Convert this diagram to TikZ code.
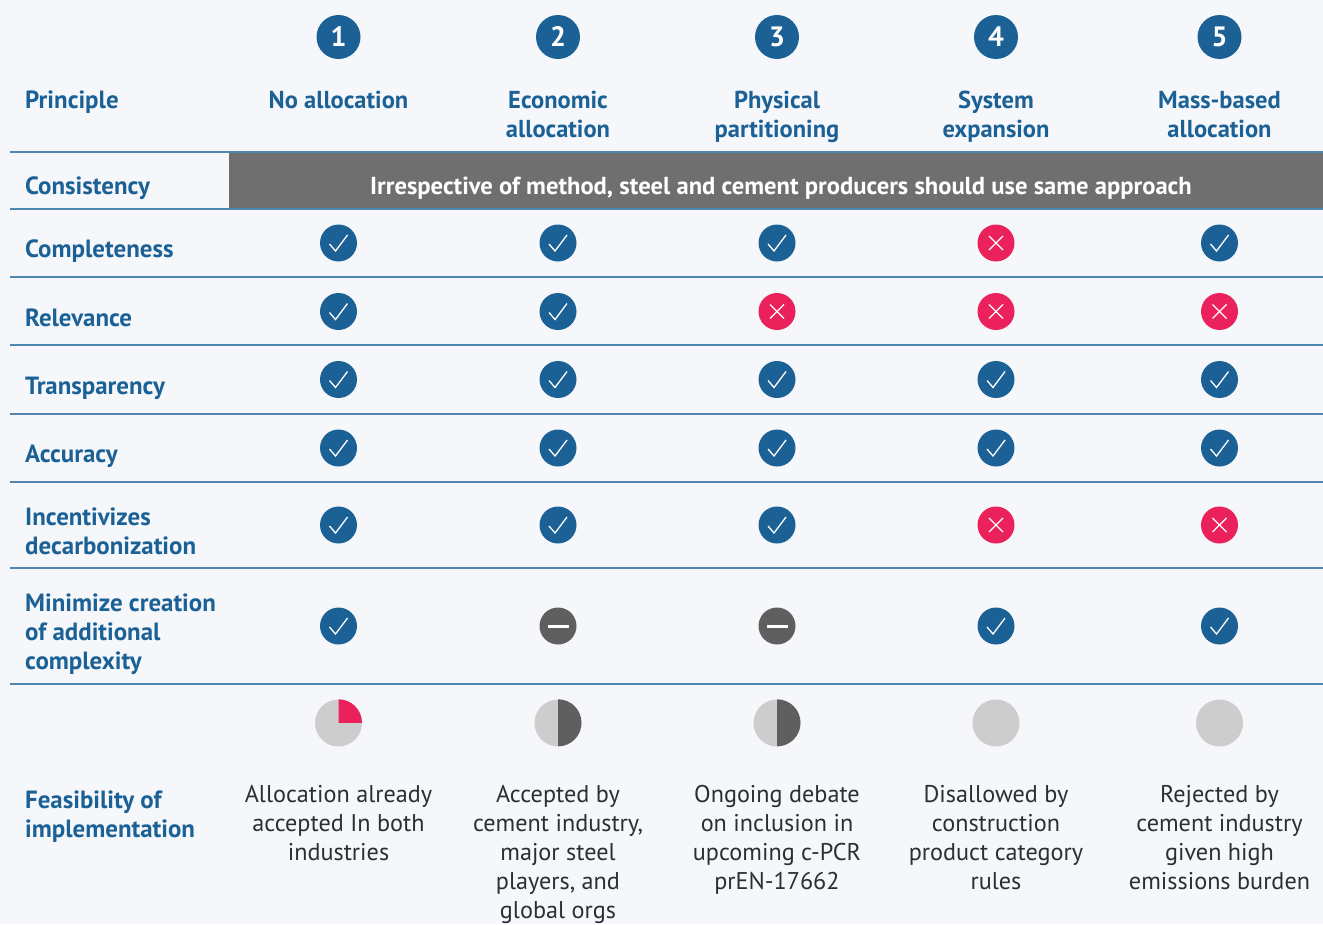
\documentclass[tikz,border=0pt]{standalone}
\usepackage{fontspec}
\setmainfont{PT Sans}
\definecolor{bgc}{HTML}{F5F7FB}
\definecolor{blu}{HTML}{1B6196}
\definecolor{rul}{HTML}{4F86B0}
\definecolor{gry}{HTML}{6F6F6F}
\definecolor{dgr}{HTML}{5F5F5F}
\definecolor{lgr}{HTML}{CDCDCD}
\definecolor{rd}{HTML}{EB215B}
\definecolor{ink}{HTML}{2A2F33}
\tikzset{
  x=1pt,y=-1pt,
  head/.style={font=\bfseries\fontsize{24.5}{29}\selectfont,text=blu,align=center,inner sep=0pt,text depth=0pt},
  lab/.style={head,font=\bfseries\fontsize{24.9}{29}\selectfont,align=left,anchor=west},
  band/.style={head,text=white,font=\bfseries\fontsize{24.6}{29}\selectfont},
  note/.style={font=\fontsize{24.2}{29}\selectfont,text=ink,align=center,inner sep=0pt,anchor=north,text depth=0pt},
  badge/.style={circle,fill=blu,text=white,minimum size=44pt,inner sep=0pt,font=\bfseries\fontsize{28}{28}\selectfont},
  rowline/.style={draw=rul,line width=1.2pt},
  icon/.style={circle,minimum size=37pt,inner sep=0pt},
  glyph/.style={draw=white,line width=1.3pt},
  pie/.style={circle,fill=lgr,minimum size=47pt,inner sep=0pt},
}
\newcommand{\icyes}[3]{\node[icon,fill=blu] (#1) at (#2,#3) {};
  \draw[glyph] ([shift={(-9,1)}]#1.center) -- ([shift={(-3,8)}]#1.center) -- ([shift={(9,-8)}]#1.center);}
\newcommand{\icno}[3]{\node[icon,fill=rd] (#1) at (#2,#3) {};
  \draw[glyph] ([shift={(-7,-7)}]#1.center) -- ([shift={(7,7)}]#1.center);
  \draw[glyph] ([shift={(-7,7)}]#1.center) -- ([shift={(7,-7)}]#1.center);}
\newcommand{\icmid}[3]{\node[icon,fill=dgr] (#1) at (#2,#3) {};
  \draw[draw=white,line width=3pt] ([shift={(-10.5,0)}]#1.center) -- ([shift={(10.5,0)}]#1.center);}
\begin{document}
\begin{tikzpicture}
\useasboundingbox (0,0) rectangle (1323,924);
\fill[bgc] (0,0) rectangle (1323,924);
\fill[gry] (229,153) rectangle (1323,209);
\draw[rowline,line width=2pt,draw=rul] (10,152) -- (1323,152);
\foreach \yy in {209,277,345,414,482,568,684} \draw[rowline] (10,\yy) -- (1323,\yy);

\node[badge] (b1) at (338.5,37) {1};
\node[badge] (b2) at (558,37) {2};
\node[badge] (b3) at (777,37) {3};
\node[badge] (b4) at (996,37) {4};
\node[badge] (b5) at (1219.5,37) {5};

\node[lab] (principle) at (25,100) {Principle};
\node[head] (h1) at (338.5,100) {No allocation};
\node[head] (h2) at (558,114.5) {Economic\\allocation};
\node[head] (h3) at (777,114.5) {Physical\\partitioning};
\node[head] (h4) at (996,114.5) {System\\expansion};
\node[head] (h5) at (1219.5,114.5) {Mass-based\\allocation};

\node[lab] (l1) at (25,186) {Consistency};
\node[band] (bandtext) at (781,186) {Irrespective of method, steel and cement producers should use same approach};
\node[lab] (l2) at (25,249) {Completeness};
\node[lab] (l3) at (25,317.5) {Relevance};
\node[lab] (l4) at (25,386) {Transparency};
\node[lab] (l5) at (25,454) {Accuracy};
\node[lab] (l6) at (25,531.5) {Incentivizes\\decarbonization};
\node[lab] (l7) at (25,632) {Minimize creation\\of additional\\complexity};
\node[lab] (l8) at (25,814.5) {Feasibility of\\implementation};

\icyes{a1}{338.5}{243}\icyes{a2}{558}{243}\icyes{a3}{777}{243}\icno{a4}{996}{243}\icyes{a5}{1219.5}{243}
\icyes{c1}{338.5}{311.5}\icyes{c2}{558}{311.5}\icno{c3}{777}{311.5}\icno{c4}{996}{311.5}\icno{c5}{1219.5}{311.5}
\icyes{d1}{338.5}{379.5}\icyes{d2}{558}{379.5}\icyes{d3}{777}{379.5}\icyes{d4}{996}{379.5}\icyes{d5}{1219.5}{379.5}
\icyes{e1}{338.5}{448}\icyes{e2}{558}{448}\icyes{e3}{777}{448}\icyes{e4}{996}{448}\icyes{e5}{1219.5}{448}
\icyes{f1}{338.5}{525}\icyes{f2}{558}{525}\icyes{f3}{777}{525}\icno{f4}{996}{525}\icno{f5}{1219.5}{525}
\icyes{g1}{338.5}{626}\icmid{g2}{558}{626}\icmid{g3}{777}{626}\icyes{g4}{996}{626}\icyes{g5}{1219.5}{626}

\node[pie] (p1) at (338.5,723) {};
\fill[rd] (p1.center) -- (p1.north) arc[start angle=-90,end angle=0,radius=23.5] -- cycle;
\node[pie] (p2) at (558,723) {};
\fill[dgr] (p2.north) arc[start angle=-90,end angle=90,radius=23.5] -- cycle;
\node[pie] (p3) at (777,723) {};
\fill[dgr] (p3.north) arc[start angle=-90,end angle=90,radius=23.5] -- cycle;
\node[pie] (p4) at (996,723) {};
\node[pie] (p5) at (1219.5,723) {};

\node[note] (n1) at (338.5,785.5) {Allocation already\\accepted In both\\industries};
\node[note] (n2) at (558,785.5) {Accepted by\\cement industry,\\major steel\\players, and\\global orgs};
\node[note] (n3) at (777,785.5) {Ongoing debate\\on inclusion in\\upcoming c-PCR\\prEN-17662};
\node[note] (n4) at (996,785.5) {Disallowed by\\construction\\product category\\rules};
\node[note] (n5) at (1219.5,785.5) {Rejected by\\cement industry\\given high\\emissions burden};
\end{tikzpicture}
\end{document}
